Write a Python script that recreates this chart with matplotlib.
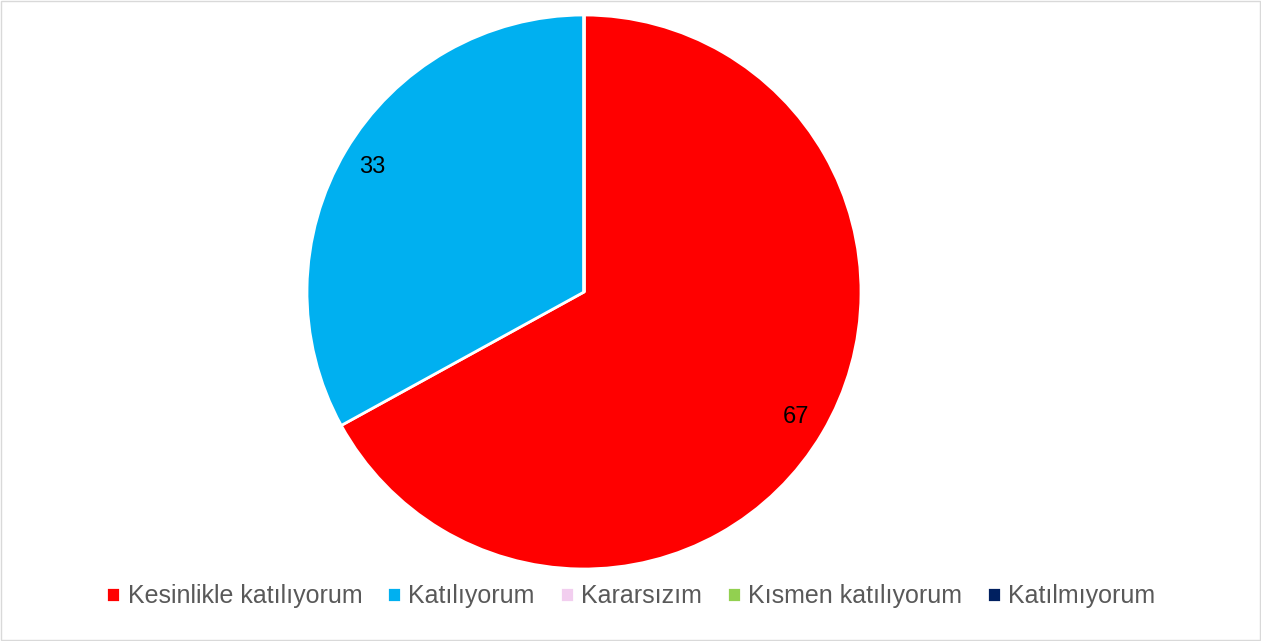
from matplotlib import pyplot as plt
from matplotlib.patches import Rectangle
import numpy as np

plt.rcParams['font.family'] = ['Liberation Sans', 'DejaVu Sans']

categories = ['Kesinlikle katılıyorum', 'Katılıyorum', 'Kararsızım',
              'Kısmen katılıyorum', 'Katılmıyorum']
values = [67, 33, 0, 0, 0]
colors = ['#FF0000', '#00B0F0', '#F2CEEF', '#92D050', '#002060']

fig = plt.figure(figsize=(12.61, 6.41), dpi=100)
fig.patches.append(Rectangle((0.001, 0.001), 0.998, 0.997, transform=fig.transFigure,
                             fill=False, edgecolor='#D9D9D9', linewidth=1))

ax = fig.add_axes([307 / 1261, 72 / 641, 554 / 1261, 554 / 641])
wedges, _ = ax.pie(values, colors=colors, startangle=90, counterclock=False,
                   radius=1, wedgeprops=dict(edgecolor='white', linewidth=2))
ax.set_xlim(-1, 1)
ax.set_ylim(-1, 1)
ax.set_aspect('equal')

# data labels near the outer edge, only for non-empty slices
total = sum(values)
start = 90
for v in values:
    if v == 0:
        continue
    ang = np.deg2rad(start - 360 * v / total / 2)
    ax.text(0.89 * np.cos(ang), 0.89 * np.sin(ang), str(v), ha='center', va='center',
            fontsize=17, color='black')
    start -= 360 * v / total

fig.legend(wedges, categories, loc='center', bbox_to_anchor=(631 / 1261, 1 - 596 / 641),
           ncol=5, frameon=False, fontsize=18, handlelength=0.55, handleheight=0.55,
           handletextpad=0.3, columnspacing=1.0, labelcolor='#595959')

plt.savefig('out.png', dpi=100)
